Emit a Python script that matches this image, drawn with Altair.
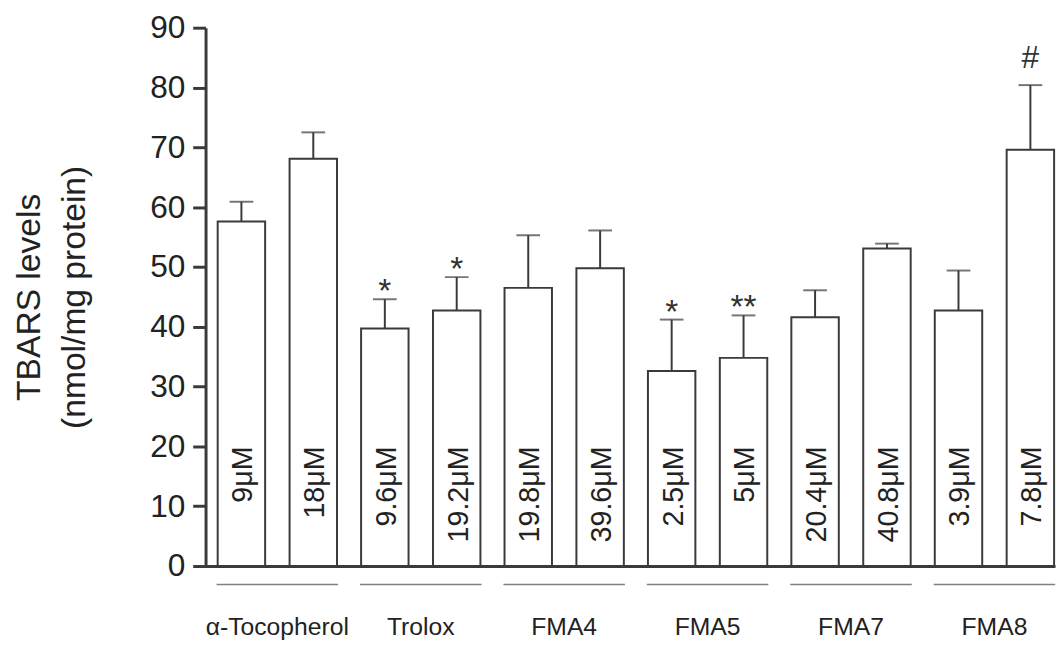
import altair as alt
import pandas as pd

groups = ["α-Tocopherol", "Trolox", "FMA4", "FMA5", "FMA7", "FMA8"]
doses = ["9μM", "18μM", "9.6μM", "19.2μM", "19.8μM", "39.6μM",
         "2.5μM", "5μM", "20.4μM", "40.8μM", "3.9μM", "7.8μM"]
levels = ["low", "high"] * 6
means = [57.6, 68.1, 39.7, 42.7, 46.5, 49.8, 32.6, 34.8, 41.6, 53.1, 42.7, 69.6]
err_top = [60.9, 72.5, 44.6, 48.3, 55.3, 56.1, 41.2, 41.9, 46.1, 53.9, 49.4, 80.4]
marks = ["", "", "*", "*", "", "", "*", "**", "", "", "", "#"]

group_col = [g for g in groups for _ in range(2)]
df = pd.DataFrame({"group": group_col, "level": levels, "dose": doses,
                   "mean": means, "top": err_top, "mark": marks})
gdf = pd.DataFrame({"group": groups})

FONT = "Liberation Sans"
INK = "#3a3a3a"

xenc = alt.X("group:N", sort=groups,
             scale=alt.Scale(paddingInner=0.168, paddingOuter=0.0455, align=0.93),
             axis=alt.Axis(title=None, labelAngle=0, labelFontSize=25, labelPadding=49,
                           ticks=False, tickSize=0, domain=True, domainWidth=3,
                           domainColor=INK, labelColor="#222", labelFont=FONT))
xoff = alt.XOffset("level:N", sort=["low", "high"],
                   scale=alt.Scale(paddingInner=0.34, paddingOuter=0))
yscale = alt.Scale(domain=[0, 90], nice=False, zero=True)
yaxis = alt.Axis(values=list(range(0, 91, 10)), grid=False, labelFontSize=32,
                 labelPadding=8, tickSize=13, tickWidth=3, tickColor=INK,
                 domainWidth=3, domainColor=INK, labelColor="#222", labelFont=FONT,
                 titleFont=FONT, titleFontSize=34, titleFontWeight="normal",
                 titleColor="#222", titleLineHeight=46, titlePadding=59)

base = alt.Chart(df).encode(x=xenc, xOffset=xoff)

bars = base.mark_bar(fill="white", stroke=INK, strokeWidth=2).encode(
    y=alt.Y("mean:Q", scale=yscale, axis=yaxis,
            title=["TBARS levels", "(nmol/mg protein)"]))

errs = base.mark_rule(color=INK, strokeWidth=2).encode(
    y="mean:Q", y2="top:Q")

caps = base.mark_tick(orient="horizontal", size=24, thickness=2, color=INK).encode(
    y="top:Q")

dose_txt = base.mark_text(angle=270, align="right", baseline="middle",
                          fontSize=29, font=FONT, color="#222", dy=2).encode(
    y=alt.datum(20), text="dose:N")

stars = base.transform_filter("indexof(datum.mark, '*') >= 0").mark_text(
    fontSize=34, font=FONT, baseline="alphabetic", dy=3, color="#333").encode(
    y="top:Q", text="mark:N")

hashes = base.transform_filter("datum.mark == '#'").mark_text(
    fontSize=32, font=FONT, baseline="alphabetic", dy=-17, color="#333").encode(
    y="top:Q", text="mark:N")

underline = alt.Chart(gdf).mark_tick(orient="horizontal", size=123, thickness=1.5,
                                     color="#4a4a4a").encode(
    x=alt.X("group:N", sort=groups), y=alt.datum(-3.1))

chart = alt.layer(bars, errs, caps, dose_txt, stars, hashes, underline).properties(
    width=860, height=545,
    padding={"left": 4, "top": 0, "right": 0, "bottom": 0},
    background="white",
).configure_view(stroke=None)

chart.save("out.html", embed_options={"renderer": "svg", "actions": False})
